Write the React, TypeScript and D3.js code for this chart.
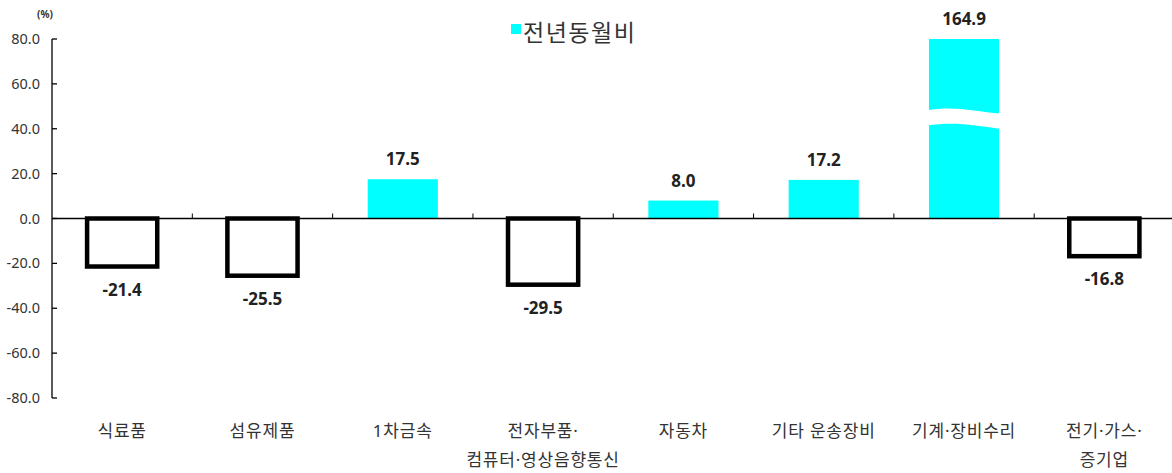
import React from 'react';
import * as d3 from 'd3';

const categories: string[][] = [
  ['식료품'],
  ['섬유제품'],
  ['1차금속'],
  ['전자부품·', '컴퓨터·영상음향통신'],
  ['자동차'],
  ['기타 운송장비'],
  ['기계·장비수리'],
  ['전기·가스·', '증기업'],
];
const values: number[] = [-21.4, -25.5, 17.5, -29.5, 8.0, 17.2, 164.9, -16.8];
const yTicks: number[] = [-80, -60, -40, -20, 0, 20, 40, 60, 80];
const seriesName = '전년동월비';
const unitLabel = '(%)';

const W = 1172;
const H = 473;
const FONT = "'Noto Sans', 'Noto Sans CJK KR', sans-serif";

export default function App() {
  const left = 52;
  const right = 1174.5;
  const top = 39;
  const bottom = 398;
  const idx = categories.map((_, i) => String(i));
  const x = d3.scaleBand<string>().domain(idx).range([left, right]).paddingInner(0.5).paddingOuter(0.25);
  const y = d3.scaleLinear().domain([-80, 80]).range([bottom, top]);
  const step = x.step();
  const bw = x.bandwidth();
  const y0 = y(0);
  const yMax = 80;

  return (
    <svg width={W} height={H} style={{ position: 'absolute', left: 0, top: 0, background: '#fff' }} fontFamily={FONT}>
      <rect x={0} y={0} width={W} height={H} fill="#fff" />
      {/* unit */}
      <text x={45} y={18} fontSize={10} fontWeight="bold" textAnchor="middle" fill="#333">{unitLabel}</text>
      {/* legend */}
      <rect x={511} y={24} width={10} height={10} fill="#00ffff" />
      <text x={523} y={41} fontSize={23} letterSpacing={1.5} fill="#333">{seriesName}</text>

      {/* bars */}
      {values.map((v, i) => {
        const cx = x(String(i))!;
        const clipped = Math.min(v, yMax);
        if (v >= 0) {
          return (
            <rect key={i} x={cx} y={y(clipped)} width={bw} height={y0 - y(clipped)} fill="#00ffff" />
          );
        }
        return (
          <rect key={i} x={cx} y={y0} width={bw} height={y(v) - y0} fill="#fff" stroke="#000" strokeWidth={4.5} />
        );
      })}

      {/* wave break on overflowing bar */}
      {values.map((v, i) => {
        if (v <= yMax) return null;
        const bx = x(String(i))! - 2;
        const bx2 = bx + bw + 4;
        const m = (bx + bx2) / 2;
        const t1 = y(48.2);
        const t2 = y(46.8);
        const b1 = y(41.5);
        const b2 = y(39.9);
        const d = `M${bx},${t1} C${m - 10},${t1 - 5} ${m + 10},${t2 - 2} ${bx2},${t2}` +
          ` L${bx2},${b2} C${m + 10},${b2 - 4} ${m - 10},${b1 - 4} ${bx},${b1} Z`;
        return <path key={'w' + i} d={d} fill="#fff" />;
      })}

      {/* zero line */}
      <line x1={left} x2={W} y1={y0} y2={y0} stroke="#000" strokeWidth={1.3} />
      {d3.range(1, categories.length + 1).map((k) => (
        <line key={k} x1={left + k * step} x2={left + k * step} y1={y0 - 5} y2={y0} stroke="#000" strokeWidth={1} />
      ))}

      {/* y axis */}
      <line x1={left} x2={left} y1={top} y2={bottom} stroke="#000" strokeWidth={1.3} />
      {yTicks.map((t) => (
        <g key={t}>
          <line x1={left} x2={left + 5} y1={y(t)} y2={y(t)} stroke="#000" strokeWidth={1.3} />
          <text x={40} y={y(t) + 5} fontSize={14.5} textAnchor="end" fill="#333">{t.toFixed(1)}</text>
        </g>
      ))}

      {/* value labels */}
      {values.map((v, i) => {
        const cx = x(String(i))! + bw / 2;
        const clipped = Math.min(v, yMax);
        const ly = v >= 0 ? y(clipped) - 14 : y(v) + 29;
        return (
          <text key={'l' + i} x={cx} y={ly} fontSize={17} fontWeight="bold" textAnchor="middle" fill="#222">
            {v.toFixed(1)}
          </text>
        );
      })}

      {/* category labels */}
      {categories.map((lines, i) => {
        const cx = x(String(i))! + bw / 2;
        return (
          <text key={'c' + i} x={cx} y={437} fontSize={17} letterSpacing={0.8} textAnchor="middle" fill="#333">
            {lines.map((ln, j) => (
              <tspan key={j} x={cx} dy={j === 0 ? 0 : 29}>{ln}</tspan>
            ))}
          </text>
        );
      })}
    </svg>
  );
}
